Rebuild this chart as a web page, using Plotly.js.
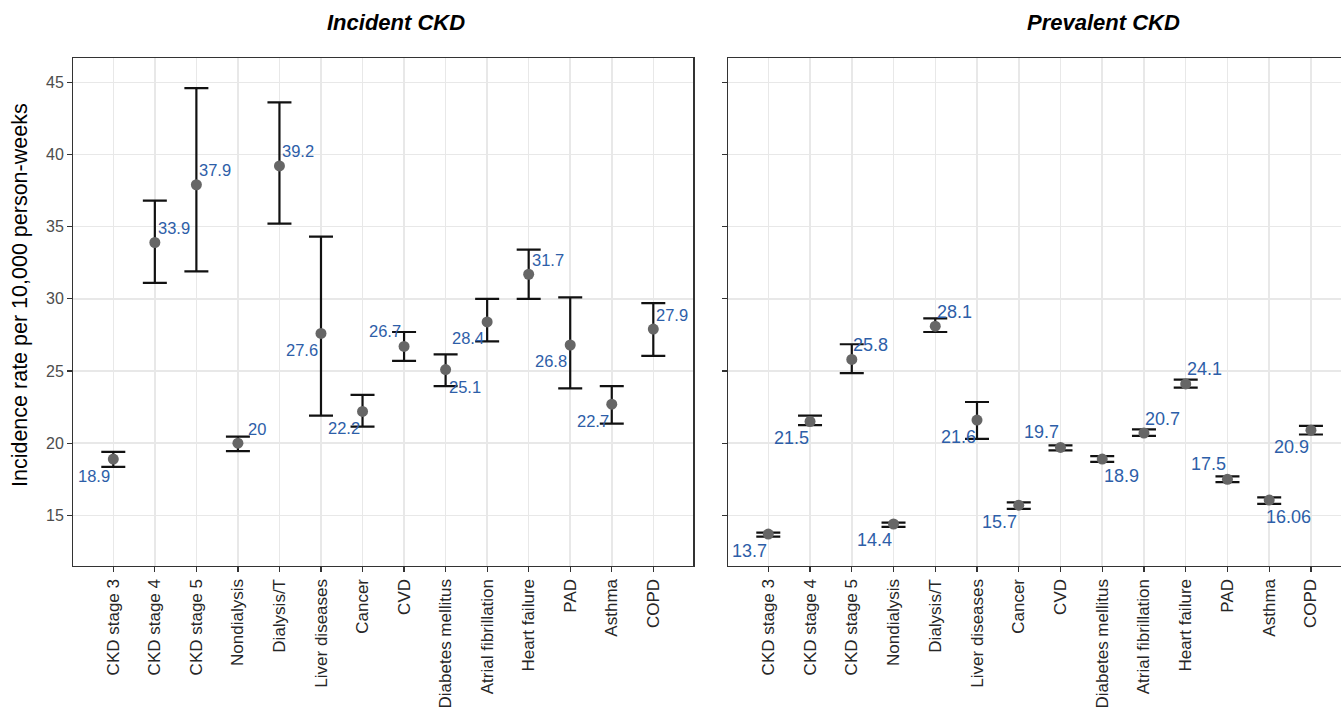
<!DOCTYPE html>
<html>
<head>
<meta charset="utf-8">
<script src="https://cdn.plot.ly/plotly-3.0.1.min.js"></script>
<style>
html,body{margin:0;padding:0;background:#fff;}
#chart{width:1341px;height:710px;}
</style>
</head>
<body>
<div id="chart"></div>
<script>
const categories = ['CKD stage 3','CKD stage 4','CKD stage 5','Nondialysis','Dialysis/T','Liver diseases','Cancer','CVD','Diabetes mellitus','Atrial fibrillation','Heart failure','PAD','Asthma','COPD'];

const incidentRate  = [18.9, 33.9, 37.9, 20,    39.2, 27.6, 22.2,  26.7, 25.1,  28.4,  31.7, 26.8, 22.7,  27.9];
const incidentLower = [18.35,31.1, 31.9, 19.45, 35.2, 21.9, 21.15, 25.7, 23.95, 27.05, 30.0, 23.8, 21.35, 26.05];
const incidentUpper = [19.4, 36.8, 44.6, 20.45, 43.6, 34.3, 23.35, 27.7, 26.15, 30.0,  33.4, 30.1, 23.95, 29.7];
const incidentLabels = ['18.9','33.9','37.9','20','39.2','27.6','22.2','26.7','25.1','28.4','31.7','26.8','22.7','27.9'];
const incidentLabelPos = ['SW','NE','NE','NE','NE','SW','SW','NW','SE','SW','NE','SW','SW','NE'];

const prevalentRate  = [13.7, 21.5,  25.8,  14.4, 28.1,  21.6,  15.7,  19.7,  18.9, 20.7,  24.1,  17.5, 16.06, 20.9];
const prevalentLower = [13.52,21.25, 24.85, 14.2, 27.7,  20.3,  15.45, 19.5,  18.7, 20.5,  23.85, 17.3, 15.8,  20.6];
const prevalentUpper = [13.8, 21.9,  26.85, 14.5, 28.65, 22.85, 15.9,  19.85, 19.1, 20.95, 24.4,  17.7, 16.25, 21.2];
const prevalentLabels = ['13.7','21.5','25.8','14.4','28.1','21.6','15.7','19.7','18.9','20.7','24.1','17.5','16.06','20.9'];
const prevalentLabelPos = ['SW','SW','NE','SW','NE','SW','SW','NW','SE','NE','NE','NW','SE','SW'];

const panelTitles = ['Incident CKD','Prevalent CKD'];
const yTitle = 'Incidence rate per 10,000 person-weeks';
const yTicks = [15,20,25,30,35,40,45];

const W = 1341, H = 710;
const px = v => v / W;
const py = v => 1 - v / H;

function pointTrace(rate, lower, upper, xa, ya) {
  return {
    type: 'scatter', mode: 'markers',
    x: categories, y: rate, xaxis: xa, yaxis: ya,
    marker: {color: '#666666', size: 11},
    error_y: {
      type: 'data', symmetric: false,
      array: upper.map((u, i) => u - rate[i]),
      arrayminus: lower.map((l, i) => rate[i] - l),
      color: '#111111', thickness: 2.2, width: 12
    },
    hoverinfo: 'x+y', showlegend: false, cliponaxis: false
  };
}

const shiftMap = {
  NE: [19, 14.5], NW: [-19, 15], SW: [-19, -16.5], SE: [19, -17]
};

function labelAnns(rate, labels, pos, xr, yr, size) {
  return labels.map((t, i) => ({
    x: categories[i], y: rate[i], xref: xr, yref: yr,
    text: t, showarrow: false,
    xanchor: 'center', yanchor: 'middle',
    xshift: shiftMap[pos[i]][0], yshift: shiftMap[pos[i]][1],
    font: {family: 'Liberation Sans, Arial, sans-serif', size: size, color: '#2d5ea8'}
  }));
}

const yRange = [11.49, 46.68];
const yDomain = [py(566), py(58)];

const commonX = {
  type: 'category', categoryorder: 'array', categoryarray: categories,
  tickangle: -90, ticks: 'outside', ticklen: 5, tickwidth: 1.2, tickcolor: '#333333',
  tickfont: {family: 'Liberation Sans, Arial, sans-serif', size: 17, color: '#262626'},
  showgrid: true, gridcolor: '#e8e8e8', gridwidth: 1.5,
  showline: true, linecolor: '#333333', linewidth: 1.2, mirror: true,
  zeroline: false, fixedrange: true
};
const commonY = {
  range: yRange, tickvals: yTicks, ticks: 'outside', ticklen: 5, tickwidth: 1.2, tickcolor: '#333333',
  tickfont: {family: 'Liberation Sans, Arial, sans-serif', size: 16, color: '#4d4d4d'},
  showgrid: true, gridcolor: '#e8e8e8', gridwidth: 1.5,
  showline: true, linecolor: '#333333', linewidth: 1.2,
  zeroline: false, domain: yDomain, fixedrange: true
};

const layout = {
  width: W, height: H,
  margin: {l: 0, r: 0, t: 0, b: 0},
  paper_bgcolor: '#ffffff', plot_bgcolor: '#ffffff',
  showlegend: false,
  xaxis: Object.assign({}, commonX, {domain: [px(73.3), px(693.3)], range: [-0.963, 13.963], anchor: 'y'}),
  xaxis2: Object.assign({}, commonX, {domain: [px(728.3), 1], range: [-0.958, 13.72], anchor: 'y2'}),
  yaxis: Object.assign({}, commonY, {anchor: 'x', mirror: true}),
  yaxis2: Object.assign({}, commonY, {anchor: 'x2', showticklabels: false, mirror: false}),
  annotations: [
    {text: '<b><i>' + panelTitles[0] + '</i></b>', xref: 'paper', yref: 'paper', x: px(396), y: py(23),
     showarrow: false, xanchor: 'center', yanchor: 'middle',
     font: {family: 'Liberation Sans, Arial, sans-serif', size: 22, color: '#000000'}},
    {text: '<b><i>' + panelTitles[1] + '</i></b>', xref: 'paper', yref: 'paper', x: px(1103), y: py(23),
     showarrow: false, xanchor: 'center', yanchor: 'middle',
     font: {family: 'Liberation Sans, Arial, sans-serif', size: 22, color: '#000000'}},
    {text: yTitle, xref: 'paper', yref: 'paper', x: px(20), y: py(295), textangle: -90,
     showarrow: false, xanchor: 'center', yanchor: 'middle',
     font: {family: 'Liberation Sans, Arial, sans-serif', size: 21.5, color: '#000000'}}
  ]
    .concat(labelAnns(incidentRate, incidentLabels, incidentLabelPos, 'x', 'y', 16.5))
    .concat(labelAnns(prevalentRate, prevalentLabels, prevalentLabelPos, 'x2', 'y2', 18))
};

const data = [
  pointTrace(incidentRate, incidentLower, incidentUpper, 'x', 'y'),
  pointTrace(prevalentRate, prevalentLower, prevalentUpper, 'x2', 'y2')
];

Plotly.newPlot('chart', data, layout, {displayModeBar: false, staticPlot: true});
</script>
</body>
</html>
